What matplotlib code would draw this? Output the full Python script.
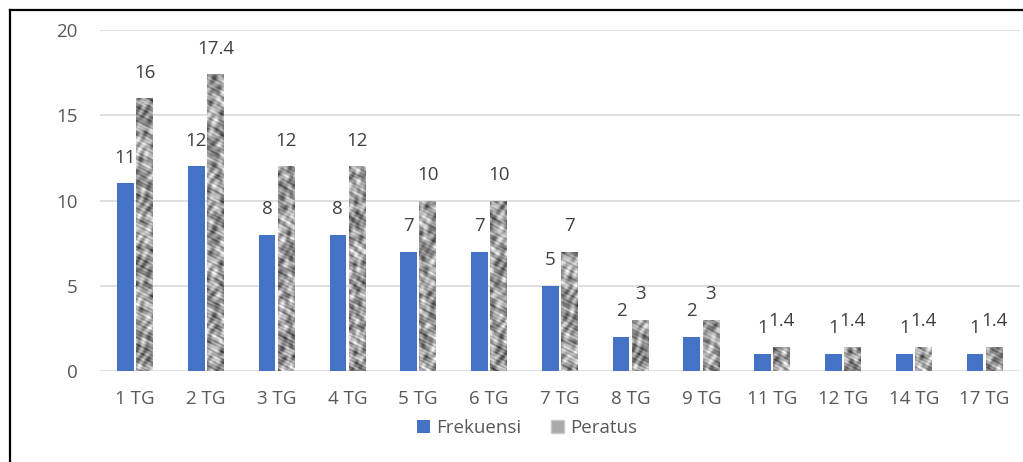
import numpy as np
import matplotlib
matplotlib.use("Agg")
import matplotlib.pyplot as plt
from matplotlib.patches import Patch
from matplotlib.lines import Line2D

categories = ["1 TG", "2 TG", "3 TG", "4 TG", "5 TG", "6 TG", "7 TG",
              "8 TG", "9 TG", "11 TG", "12 TG", "14 TG", "17 TG"]
frekuensi = [11, 12, 8, 8, 7, 7, 5, 2, 2, 1, 1, 1, 1]
peratus = [16, 17.4, 12, 12, 10, 10, 7, 3, 3, 1.4, 1.4, 1.4, 1.4]
peratus_labels = ["16", "17.4", "12", "12", "10", "10", "7", "3", "3",
                  "1.4", "1.4", "1.4", "1.4"]

plt.rcParams['font.family'] = ['Open Sans', 'DejaVu Sans']
tick_col = '#595959'
lab_col = '#404040'

fig = plt.figure(figsize=(10.23, 4.62), dpi=100)
ax = fig.add_axes([0.0974, 0.197, 0.8996, 0.738])

x = np.arange(len(categories))
w = 0.235
off = 0.135
b1 = ax.bar(x - off, frekuensi, w, color='#4472C4', zorder=3)
b2 = ax.bar(x + off, peratus, w, color='none', zorder=3)

# grey blotchy texture for the "Peratus" bars (pixel grid of the axes)
gx, gy = np.meshgrid(np.arange(920), np.arange(341))
tex = (np.sin(gx * 0.33 + 1.6 * np.sin(gy * 0.21)) * np.sin(gy * 0.29 + 1.7 * np.cos(gx * 0.19)) +
       0.6 * np.sin(gx * 0.71 + gy * 0.23 + 1.2 * np.cos(gy * 0.17)) *
       np.cos(gy * 0.61 - gx * 0.13 + np.sin(gx * 0.11)) +
       0.3 * np.sin((gx + 2 * gy) * 0.9))
for bar in b2:
    im = ax.imshow(tex, cmap='gray', vmin=-2.6, vmax=1.6, extent=(-0.5, 12.5, 0, 20),
                   origin='lower', aspect='auto', interpolation='bilinear', zorder=3)
    im.set_clip_path(bar)

for b, v in zip(b1, frekuensi):
    ax.annotate(str(v), (b.get_x() + b.get_width() / 2, v), xytext=(0, 18.5),
                textcoords='offset points', ha='center', va='center',
                fontsize=13.5, color=lab_col)
for b, v, s in zip(b2, peratus, peratus_labels):
    ax.annotate(s, (b.get_x() + b.get_width() / 2, v), xytext=(0, 18.5),
                textcoords='offset points', ha='center', va='center',
                fontsize=13.5, color=lab_col)

ax.set_xlim(-0.5, len(categories) - 0.5)
ax.set_ylim(0, 20)
ax.set_yticks([0, 5, 10, 15, 20])
ax.set_xticks(x)
ax.set_xticklabels(categories)
ax.tick_params(axis='both', length=0, labelsize=13.5, colors=tick_col)
ax.tick_params(axis='y', pad=16)
ax.tick_params(axis='x', pad=14)
ax.grid(axis='y', color='#d9d9d9', linewidth=1.2, zorder=0)
for s in ax.spines.values():
    s.set_visible(False)

handles = [Patch(facecolor='#4472C4'), Patch(facecolor='#a8a8a8', edgecolor='#c8c8c8')]
fig.legend(handles, ['Frekuensi', 'Peratus'], loc='center', bbox_to_anchor=(0.515, 0.074),
           ncol=2, frameon=False, fontsize=13.5, labelcolor=tick_col,
           handlelength=0.7, handleheight=0.7, handletextpad=0.3, columnspacing=1.6)

# black frame on left and top
fig.add_artist(Line2D([0.0093, 0.0093], [0, 0.978], color='black', lw=1.6,
                      transform=fig.transFigure))
fig.add_artist(Line2D([0.0093, 1.0], [0.978, 0.978], color='black', lw=1.6,
                      transform=fig.transFigure))

fig.savefig("out.png", dpi=100)
